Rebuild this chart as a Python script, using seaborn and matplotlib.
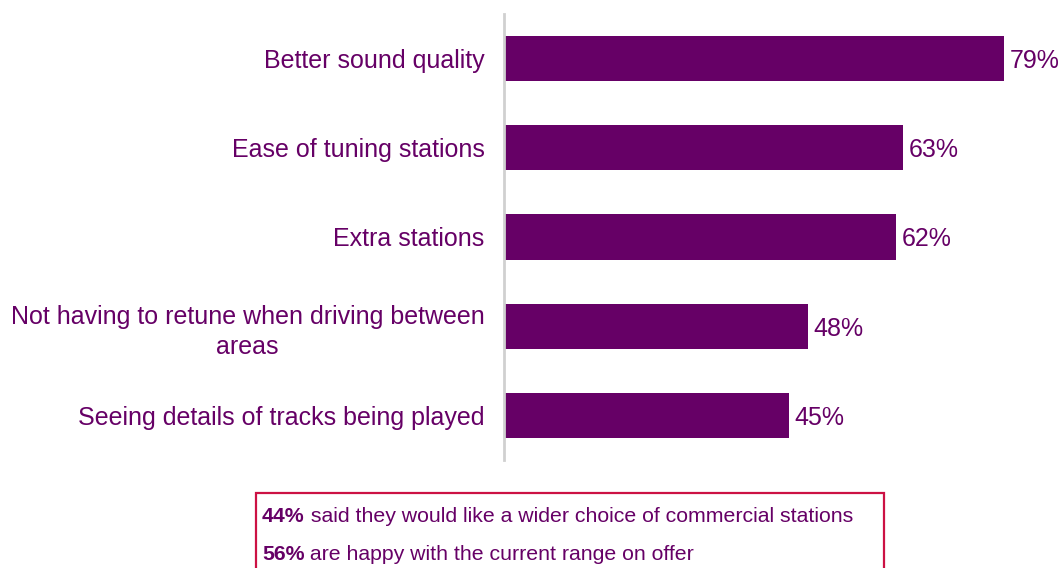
import matplotlib
matplotlib.use("Agg")
import matplotlib.pyplot as plt
import seaborn as sns
import pandas as pd
from matplotlib.patches import Rectangle

categories = [
    "Better sound quality",
    "Ease of tuning stations",
    "Extra stations",
    "Not having to retune when driving between\nareas",
    "Seeing details of tracks being played",
]
values = [79, 63, 62, 48, 45]
note_bold = ["44%", "56%"]
note_text = [
    " said they would like a wider choice of commercial stations",
    " are happy with the current range on offer",
]

PURPLE = "#660066"
BORDER = "#cc1144"

sns.set_theme(style="white")
plt.rcParams["font.family"] = ["Liberation Sans", "DejaVu Sans"]

W, H = 1061, 568
fig = plt.figure(figsize=(W / 100, H / 100), dpi=100)
ax = fig.add_axes([504 / W, 1 - 460 / H, 557 / W, 446 / H])

df = pd.DataFrame({"cat": categories, "val": values})
sns.barplot(data=df, y="cat", x="val", color=PURPLE, saturation=1,
            width=0.506, ax=ax, orient="h")
for p in ax.patches:
    p.set_edgecolor("none")

ax.set_xlim(0, 88)
ax.set_ylim(4.5, -0.5)
ax.set_xlabel("")
ax.set_ylabel("")
ax.set_xticks([])
for s in ["top", "right", "bottom"]:
    ax.spines[s].set_visible(False)
ax.spines["left"].set_color("#d0d0d0")
ax.spines["left"].set_linewidth(2)
ax.tick_params(axis="y", length=0, pad=14, labelsize=18, labelcolor=PURPLE)
for lbl in ax.get_yticklabels():
    lbl.set_multialignment("center")
    lbl.set_linespacing(1.35)

for c in ax.containers:
    texts = ax.bar_label(c, labels=[f"{v}%" for v in values], padding=4,
                         fontsize=18, color=PURPLE, clip_on=False)
    for t in texts:
        t.set_va("center_baseline")

# Note box
rect = Rectangle((256 / W, -0.05), (884 - 256) / W, (568 - 493) / H + 0.05,
                 transform=fig.transFigure, fill=False, edgecolor=BORDER,
                 linewidth=1.6)
fig.add_artist(rect)

ys = [1 - 517 / H, 1 - 554 / H]
for b, t, y in zip(note_bold, note_text, ys):
    tb = fig.text(262 / W, y, b, fontsize=15.3, fontweight="bold",
                  color=PURPLE, va="center", ha="left")
    plt.annotate(t, xy=(1, 0), xycoords=tb, va="bottom", ha="left",
                 fontsize=15.3, color=PURPLE, annotation_clip=False)

fig.savefig("out.png", dpi=100)
